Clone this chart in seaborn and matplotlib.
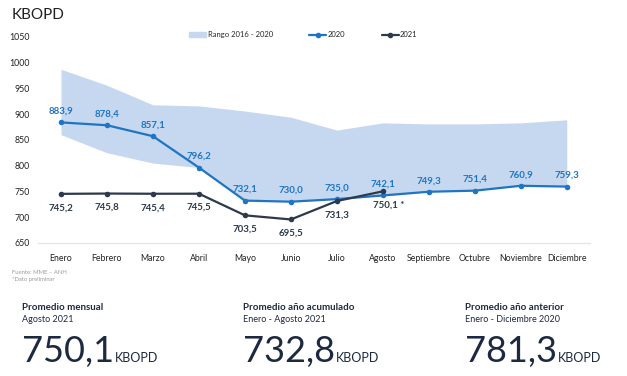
import numpy as np
import pandas as pd
import matplotlib
matplotlib.use("Agg")
import matplotlib.pyplot as plt
from matplotlib.patches import Patch
from matplotlib.lines import Line2D
import seaborn as sns

# Data (KBOPD)
meses = ['Enero', 'Febrero', 'Marzo', 'Abril', 'Mayo', 'Junio', 'Julio',
         'Agosto', 'Septiembre', 'Octubre', 'Noviembre', 'Diciembre']
prod_2020 = [883.9, 878.4, 857.1, 796.2, 732.1, 730.0, 735.0, 742.1,
             749.3, 751.4, 760.9, 759.3]
prod_2021 = [745.2, 745.8, 745.4, 745.5, 703.5, 695.5, 731.3, 750.1]
rango_max = [987, 956, 918, 916, 906, 894, 869, 883, 881, 881, 883, 889]
rango_min = [860, 825, 805, 796.2, 732.1, 730.0, 735.0, 742.1, 749.3,
             751.4, 760.9, 759.3]

# Summary boxes
res_titulos = ['Promedio mensual', 'Promedio año acumulado', 'Promedio año anterior']
res_periodos = ['Agosto 2021', 'Enero - Agosto 2021', 'Enero - Diciembre 2020']
res_valores = ['750,1', '732,8', '781,3']

AZUL = '#1f74c4'
OSCURO = '#2e3a4b'
BANDA = '#c6d8ef'
NAVY = '#1d2940'

sns.set_style('white')
plt.rcParams['font.family'] = ['Lato', 'DejaVu Sans']

df20 = pd.DataFrame({'x': np.arange(len(prod_2020)), 'y': prod_2020})
df21 = pd.DataFrame({'x': np.arange(len(prod_2021)), 'y': prod_2021})

fig = plt.figure(figsize=(6.27, 3.76), dpi=100)
ax = fig.add_axes([0.0606, 0.354, 0.880, 0.548])

ax.fill_between(np.arange(len(meses)), rango_min, rango_max,
                color=BANDA, linewidth=0, zorder=1)
sns.lineplot(data=df20, x='x', y='y', ax=ax, color=AZUL, linewidth=1.6,
             marker='o', markersize=4, markeredgewidth=0, zorder=3)
sns.lineplot(data=df21, x='x', y='y', ax=ax, color=OSCURO, linewidth=1.6,
             marker='o', markersize=4, markeredgewidth=0, zorder=4)

for i, v in enumerate(prod_2020):
    ax.annotate(f'{v:.1f}'.replace('.', ','), (i, v), xytext=(0, 8),
                textcoords='offset points', ha='center', va='center',
                fontsize=7, fontweight='bold', color=AZUL)
for i, v in enumerate(prod_2021):
    txt = f'{v:.1f}'.replace('.', ',')
    dx = 0
    if i == len(prod_2021) - 1:
        txt += ' *'
        dx = 4
    ax.annotate(txt, (i, v), xytext=(dx, -10), textcoords='offset points',
                ha='center', va='center', fontsize=7, fontweight='bold',
                color=OSCURO)

ax.set_xlim(-0.5, 11.5)
ax.set_ylim(650, 1050)
ax.set_yticks(np.arange(650, 1051, 50))
ax.set_xticks(np.arange(len(meses)))
ax.set_xticklabels(meses)
ax.tick_params(axis='both', length=0, labelsize=6.3, colors='#222222')
ax.tick_params(axis='x', pad=8)
ax.tick_params(axis='y', pad=6)
ax.set_xlabel('')
ax.set_ylabel('')
for s in ['top', 'right', 'left']:
    ax.spines[s].set_visible(False)
ax.spines['bottom'].set_color('#e3e6ea')
ax.spines['bottom'].set_linewidth(1)

handles = [Patch(color=BANDA, label='Rango 2016 - 2020'),
           Line2D([], [], color=AZUL, lw=1.6, marker='o', ms=3, label='2020'),
           Line2D([], [], color=OSCURO, lw=1.6, marker='o', ms=3, label='2021')]
fig.legend(handles=handles, loc='center', bbox_to_anchor=(0.484, 0.907),
           ncol=3, frameon=False, fontsize=5.5, handlelength=2.2,
           handletextpad=0.2, columnspacing=4.8)

fig.text(12 / 627, 1 - 15 / 376, 'KBOPD', fontsize=11, color='#222222',
         ha='left', va='center')

fig.text(12 / 627, 1 - 272 / 376, 'Fuente: MME – ANH', fontsize=4.2,
         color='#9a9a9a', va='center')
fig.text(12 / 627, 1 - 280 / 376, '*Dato preliminar', fontsize=4.2,
         color='#9a9a9a', va='center')

xs = [22, 243, 465]
for x0, t, p, v in zip(xs, res_titulos, res_periodos, res_valores):
    fx = x0 / 627
    fig.text(fx, 1 - 307 / 376, t, fontsize=7, fontweight='bold', color=NAVY,
             va='center')
    fig.text(fx, 1 - 319 / 376, p, fontsize=6.5, color=NAVY, va='center')
    big = fig.text(fx, 1 - 362 / 376, v, fontsize=26, color=NAVY,
                   va='baseline')
    fig.canvas.draw()
    bb = big.get_window_extent()
    fig.text((bb.x1 + 1) / 627, 1 - 362 / 376, 'KBOPD', fontsize=9,
             color=NAVY, va='baseline')

fig.savefig('out.png', dpi=100)
